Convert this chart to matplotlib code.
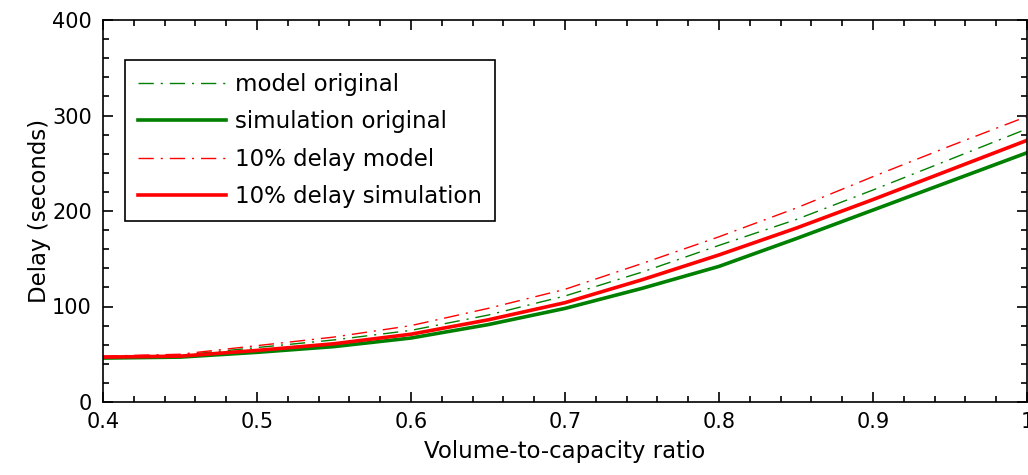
import matplotlib
matplotlib.use("Agg")
import matplotlib.pyplot as plt
from matplotlib.ticker import MultipleLocator

vc = [0.40, 0.45, 0.50, 0.55, 0.60, 0.65, 0.70, 0.75, 0.80, 0.85, 0.90, 0.95, 1.00]
model_original = [47, 49, 57, 65, 75, 91, 111, 136, 164, 191, 222, 254, 286]
simulation_original = [46, 47, 52, 58, 67, 81, 98, 119, 142, 171, 201, 231, 261]
delay_model = [48, 50, 59, 68, 80, 98, 118, 145, 173, 203, 236, 268, 299]
delay_simulation = [47, 48, 54, 61, 71, 86, 104, 128, 154, 182, 212, 243, 274]

xticks = [0.4, 0.5, 0.6, 0.7, 0.8, 0.9, 1.0]
xtick_labels = ["0.4", "0.5", "0.6", "0.7", "0.8", "0.9", "1"]
yticks = [0, 100, 200, 300, 400]

plt.rcParams['font.family'] = ['DejaVu Sans']
FS = 15
LFS = 16.5

fig = plt.figure(figsize=(10.28, 4.75), dpi=100)
ax = fig.add_axes([103/1028, (475-402)/475, 924/1028, 382/475])

dd = (0, (11, 5, 1.5, 5))
ax.plot(vc, model_original, color=(0, 0.5, 0), lw=1.0, linestyle=dd, label="model original")
ax.plot(vc, simulation_original, color=(0, 0.5, 0), lw=2.6, label="simulation original")
ax.plot(vc, delay_model, color=(1, 0, 0), lw=1.0, linestyle=dd, label="10% delay model")
ax.plot(vc, delay_simulation, color=(1, 0, 0), lw=2.6, label="10% delay simulation")

ax.set_xlim(0.4, 1.0)
ax.set_ylim(0, 400)
ax.set_xticks(xticks)
ax.set_xticklabels(xtick_labels)
ax.set_yticks(yticks)
ax.xaxis.set_minor_locator(MultipleLocator(0.02))
ax.yaxis.set_minor_locator(MultipleLocator(20))
ax.tick_params(which='both', direction='in', top=True, right=True, labelsize=FS,
               width=1.2, colors='black')
ax.tick_params(axis='x', which='both', pad=7)
ax.tick_params(axis='y', which='both', pad=8)
ax.tick_params(which='major', length=7)
ax.tick_params(which='minor', length=4)
for s in ax.spines.values():
    s.set_linewidth(1.2)

ax.set_xlabel("Volume-to-capacity ratio", fontsize=LFS, labelpad=6)
ax.set_ylabel("Delay (seconds)", fontsize=LFS, labelpad=1)

leg = ax.legend(loc='upper left', bbox_to_anchor=(0.024, 0.895), borderaxespad=0,
                fontsize=LFS, fancybox=False, frameon=True, handlelength=3.85,
                handletextpad=0.4, labelspacing=0.63, borderpad=0.55)
leg.get_frame().set_edgecolor('black')
leg.get_frame().set_linewidth(1.2)
leg.get_frame().set_alpha(1)

fig.savefig("out.png", dpi=100)
